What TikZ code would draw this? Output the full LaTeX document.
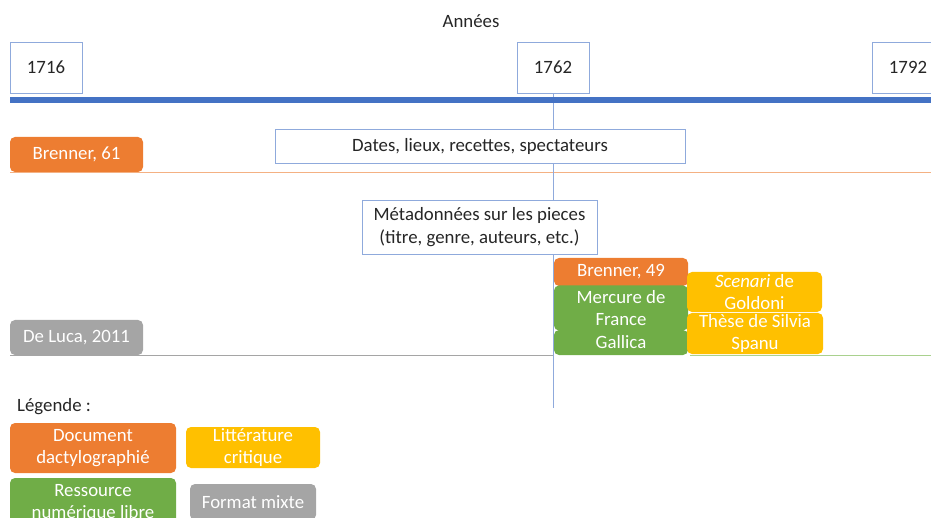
\documentclass[tikz,border=0pt]{standalone}
\usepackage{fontspec}
\setmainfont{Carlito}
\definecolor{obl}{HTML}{4472C4}
\definecolor{olb}{HTML}{8FAADC}
\definecolor{oor}{HTML}{ED7D31}
\definecolor{oorl}{HTML}{F4B183}
\definecolor{ogr}{HTML}{70AD47}
\definecolor{ogrl}{HTML}{A9D18E}
\definecolor{oye}{HTML}{FFC000}
\definecolor{ogy}{HTML}{A5A5A5}
\definecolor{otx}{HTML}{262626}
\tikzset{
  x=1pt,y=-1pt,
  fnt/.style={font=\fontsize{18.8}{22.5}\selectfont},
  txt/.style={fnt, text=otx},
  yearbox/.style={draw=olb, line width=0.8pt, fill=white, minimum width=72pt, minimum height=51pt, txt, inner sep=0pt},
  infobox/.style={draw=olb, line width=0.8pt, fill=white, txt, inner sep=0pt, align=center},
  tag/.style={rounded corners=5pt, fnt, text=white, inner sep=0pt, align=center},
  orangetag/.style={tag, fill=oor},
  greentag/.style={tag, fill=ogr},
  yellowtag/.style={tag, fill=oye},
  graytag/.style={tag, fill=ogy},
}
\begin{document}
\begin{tikzpicture}
\useasboundingbox (0,0) rectangle (931,518);
\clip (0,0) rectangle (931,518);
% title
\node[txt] (annees) at (471,21) {Années};
% axis lines
\coordinate (axL) at (10,100);
\coordinate (axR) at (931,100);
\coordinate (orL) at (10,172);
\coordinate (orR) at (931,172);
\coordinate (gyL) at (10,355);
\coordinate (gyR) at (553,355);
\coordinate (gnL) at (690,355);
\coordinate (gnR) at (931,355);
\coordinate (vbot) at (553,408);
\draw[oorl, line width=0.8pt] (orL) -- (orR);
\draw[ogy, line width=0.8pt] (gyL) -- (gyR);
\draw[ogrl, line width=0.8pt] (gnL) -- (gnR);
% year boxes
\node[yearbox] (y1716) at (46,67.5) {1716};
\node[yearbox] (y1762) at (553,67.5) {1762};
\node[yearbox] (y1792) at (908,67.5) {1792};
\draw[olb, line width=0.8pt] (y1762.south) -- (vbot);
\draw[obl, line width=6pt] (axL) -- (axR);
% info boxes
\node[infobox, minimum width=410pt, minimum height=34pt] (dates) at (480,146) {Dates, lieux, recettes, spectateurs};
\node[infobox, minimum width=235pt, minimum height=54pt] (meta) at (479.5,227) {Métadonnées sur les pieces\\(titre, genre, auteurs, etc.)};
% tags
\node[orangetag, minimum width=133pt, minimum height=35pt] (br61) at (76.5,154.5) {Brenner, 61};
\node[graytag, minimum width=133pt, minimum height=35pt] (deluca) at (76.5,337.5) {De Luca, 2011};
\node[orangetag, minimum width=134pt, minimum height=28pt] (br49) at (621,272) {Brenner, 49};
\node[greentag, minimum width=134pt, minimum height=45pt] (mercure) at (621,308) {Mercure de\\France};
\node[greentag, minimum width=134pt, minimum height=25pt] (gallica) at (621,342.5) {Gallica};
\node[yellowtag, minimum width=135pt, minimum height=40pt] (scenari) at (754.5,292) {\textit{Scenari} de\\Goldoni};
\node[yellowtag, minimum width=136pt, minimum height=41pt] (these) at (755,333.5) {Thèse de Silvia\\Spanu};
% legend
\node[txt, anchor=west, inner sep=0pt] (legende) at (17,407) {Légende :};
\node[orangetag, minimum width=166pt, minimum height=50pt] (ldoc) at (93,448) {Document\\dactylographié};
\node[yellowtag, minimum width=134pt, minimum height=41pt] (llit) at (253,447.5) {Littérature\\critique};
\node[greentag, minimum width=166pt, minimum height=50pt] (lres) at (93,503) {Ressource\\numérique libre};
\node[graytag, minimum width=126pt, minimum height=36pt] (lfmt) at (253,502) {Format mixte};
\end{tikzpicture}
\end{document}
